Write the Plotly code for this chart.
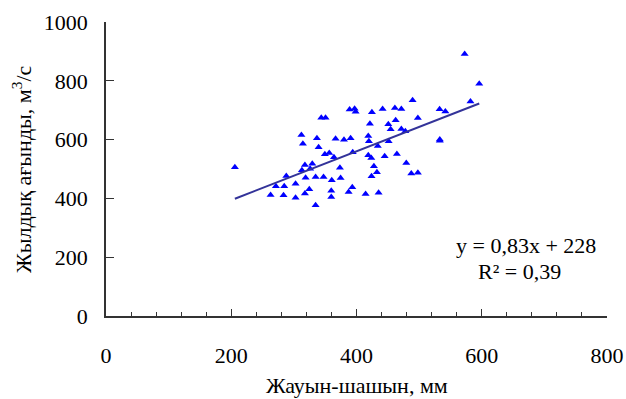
import plotly.graph_objects as go

# Precipitation (mm)
rain = [205.8, 343.8, 350.6, 312.0, 336.8, 366.6, 314.4, 339.5, 349.5, 356.5,
        364.0, 329.4, 317.6, 312.8, 326.0, 373.5, 287.9, 318.7, 334.7, 347.4,
        360.5, 271.3, 284.6, 302.7, 324.6, 262.8, 283.5, 302.7, 317.6, 359.7,
        359.7, 334.7, 572.7, 489.6, 389.0, 397.0, 398.6, 424.6, 441.7, 461.3,
        471.6, 532.7, 541.9, 498.0, 462.5, 421.4, 450.8, 454.5, 471.6, 478.0,
        380.0, 390.6, 418.8, 419.8, 451.3, 533.0, 533.0, 434.0, 394.0, 418.8,
        423.6, 445.0, 464.5, 427.8, 432.6, 479.5, 487.5, 498.0, 424.0, 374.6,
        393.3, 387.4, 414.5, 435.3, 596.0, 582.0]
# Annual runoff (m3/s)
runoff = [505.7, 674.5, 674.5, 615.6, 605.0, 603.0, 586.0, 573.6, 550.0, 554.0,
          540.0, 518.0, 513.6, 495.6, 501.0, 504.5, 476.0, 470.0, 472.8, 473.0,
          461.5, 441.0, 441.0, 450.0, 431.0, 411.6, 410.5, 402.5, 417.0, 426.0,
          404.8, 376.5, 891.0, 733.6, 702.0, 705.0, 695.0, 693.0, 704.0, 707.5,
          704.0, 703.0, 696.0, 673.5, 665.6, 654.0, 652.0, 635.0, 636.0, 628.0,
          599.7, 605.0, 612.0, 594.0, 594.0, 600.0, 596.0, 578.0, 556.6, 546.6,
          537.0, 543.0, 551.0, 509.0, 488.8, 520.0, 485.0, 487.0, 475.0, 469.0,
          437.7, 421.8, 415.0, 419.5, 790.0, 730.0]

slope = 0.83
intercept = 228
eq_text = "y = 0,83x + 228"
r2_text = "R² = 0,39"
x_ticks = [0, 200, 400, 600, 800]
y_ticks = [0, 200, 400, 600, 800, 1000]
x_title = "Жауын-шашын, мм"
y_title = "Жылдық ағынды, м<sup>3</sup>/с"

line_x = [min(rain), max(rain)]
line_y = [slope * v + intercept for v in line_x]

FONT = "Liberation Serif, Times New Roman, serif"
FS = 22

fig = go.Figure()
fig.add_trace(go.Scatter(
    x=rain, y=runoff, mode="markers",
    marker=dict(symbol="triangle-up", size=7, color="#0000FF", line=dict(width=0)),
    showlegend=False, hoverinfo="skip"))
fig.add_trace(go.Scatter(
    x=line_x, y=line_y, mode="lines",
    line=dict(color="#333399", width=2),
    showlegend=False, hoverinfo="skip"))

fig.add_annotation(x=670, y=241, text=eq_text, showarrow=False,
                   font=dict(family=FONT, size=FS, color="black"))
fig.add_annotation(x=660, y=153, text=r2_text, showarrow=False,
                   font=dict(family=FONT, size=FS, color="black"))

# axis titles
fig.add_annotation(xref="paper", yref="paper", x=0.5, y=-0.235, text=x_title,
                   showarrow=False, xanchor="center", yanchor="middle",
                   font=dict(family=FONT, size=FS, color="black"))
fig.add_annotation(xref="paper", yref="paper", x=-0.1675, y=0.5, text=y_title,
                   showarrow=False, xanchor="center", yanchor="middle", textangle=-90,
                   font=dict(family=FONT, size=FS, color="black"))

fig.update_layout(
    width=626, height=399,
    margin=dict(l=106, r=19, t=22, b=83),
    paper_bgcolor="white", plot_bgcolor="white",
    font=dict(family=FONT, size=FS, color="black"),
    xaxis=dict(range=[0, 800], tickvals=x_ticks, showgrid=False, zeroline=False,
               automargin=False,
               showline=True, linecolor="#333333", linewidth=1.5,
               ticks="inside", ticklen=7, tickcolor="#333333", tickwidth=1.2,
               minor=dict(dtick=40, ticks="inside", ticklen=4, tickcolor="#333333", tickwidth=1, showgrid=False),
               ticklabelstandoff=19),
    yaxis=dict(range=[0, 1000], tickvals=y_ticks, showgrid=False, zeroline=False,
               automargin=False,
               showline=True, linecolor="#333333", linewidth=1.5,
               ticks="inside", ticklen=8, tickcolor="#333333", tickwidth=1.2,
               ticklabelstandoff=12),
)

fig.write_html("out.html")
